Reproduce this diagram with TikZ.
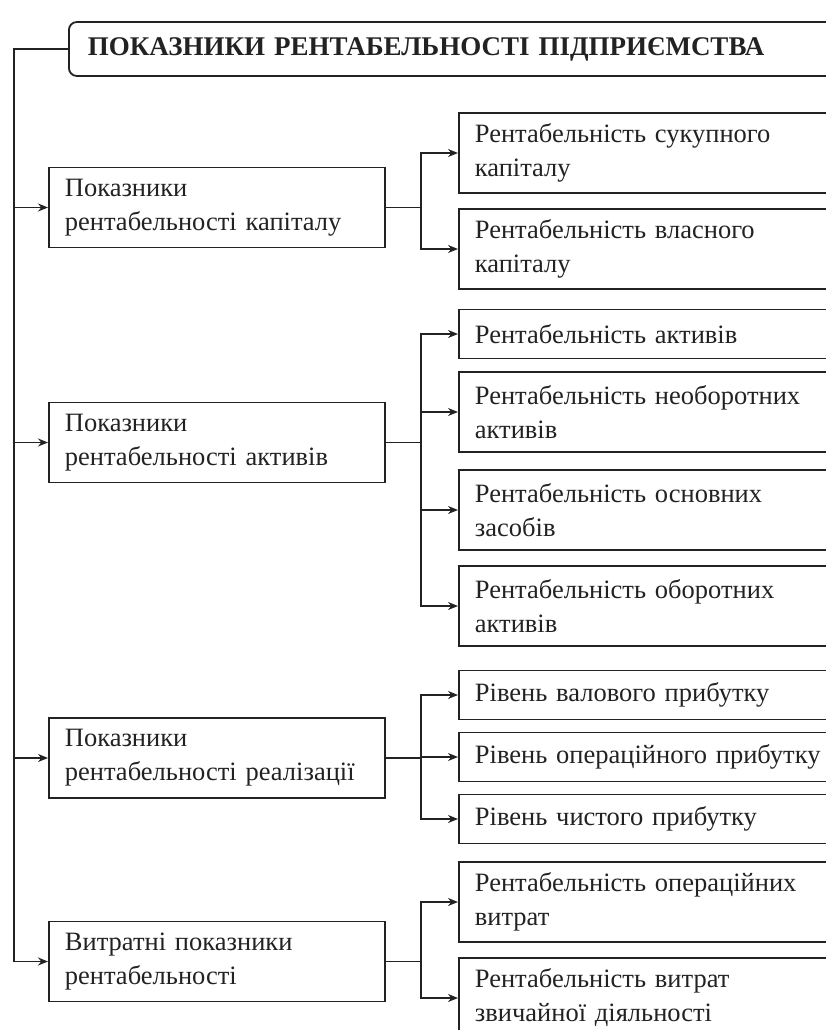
\documentclass[tikz,border=0pt]{standalone}
\usepackage{fontspec}
\setmainfont{Liberation Serif}
\usetikzlibrary{arrows.meta}
\definecolor{ink}{HTML}{222222}
\begin{document}
\begin{tikzpicture}[x=1pt,y=-1pt,
  box/.style={draw=ink, line width=1.8pt, anchor=west, inner xsep=16pt, inner ysep=3pt,
    align=left, font=\fontsize{26.5}{34}\selectfont, text=ink},
  lbox/.style={box, text width=304pt, minimum height=80pt},
  rbox/.style={box, text width=360pt, minimum height=80pt},
  rboxs/.style={box, text width=360pt, minimum height=49pt},
  arr/.style={draw=ink, line width=1.6pt, -{Stealth[length=10pt,width=8pt]}},
  ln/.style={draw=ink, line width=1.6pt}]
\useasboundingbox (0,0) rectangle (826,1030);

\node[draw=ink, line width=1.8pt, rounded corners=8pt, anchor=west, minimum height=54pt,
  text width=760pt, inner xsep=19pt, align=left, text=ink,
  font=\bfseries\fontsize{27}{30}\selectfont] (T) at (68,49) {ПОКАЗНИКИ РЕНТАБЕЛЬНОСТІ ПІДПРИЄМСТВА};

\coordinate (tx) at (14,0);
\coordinate (bx) at (421,0);

% left boxes
\node[lbox] (L1) at (48,207.5) {Показники\\рентабельності капіталу};
\node[lbox] (L2) at (48,442.5) {Показники\\рентабельності активів};
\node[lbox] (L3) at (48,758) {Показники\\рентабельності реалізації};
\node[lbox] (L4) at (48,961.5) {Витратні показники\\рентабельності};

% right boxes
\node[rbox] (R1) at (458,153) {Рентабельність сукупного\\капіталу};
\node[rbox] (R2) at (458,249) {Рентабельність власного\\капіталу};
\node[rboxs] (R3) at (458,334) {Рентабельність активів};
\node[rbox] (R4) at (458,412) {Рентабельність необоротних\\активів};
\node[rbox] (R5) at (458,510) {Рентабельність основних\\засобів};
\node[rbox] (R6) at (458,606) {Рентабельність оборотних\\активів};
\node[rboxs] (R7) at (458,695) {Рівень валового прибутку};
\node[rboxs] (R8) at (458,757) {Рівень операційного прибутку};
\node[rboxs] (R9) at (458,819) {Рівень чистого прибутку};
\node[rbox] (R10) at (458,902) {Рентабельність операційних\\витрат};
\node[rbox] (R11) at (458,998) {Рентабельність витрат\\звичайної діяльності};

% trunk
\draw[ln] (T.west) -- (T.west -| tx) -- (tx |- L4.west);
\foreach \n in {L1,L2,L3,L4} \draw[arr] (tx |- \n.west) -- (\n.west);

% branches
\foreach \l/\r in {L1/R1,L1/R2,L2/R3,L2/R4,L2/R5,L2/R6,L3/R7,L3/R8,L3/R9,L4/R10,L4/R11}
  \draw[arr] (\l.east) -- (\l.east -| bx) |- (\r.west);
\end{tikzpicture}
\end{document}
